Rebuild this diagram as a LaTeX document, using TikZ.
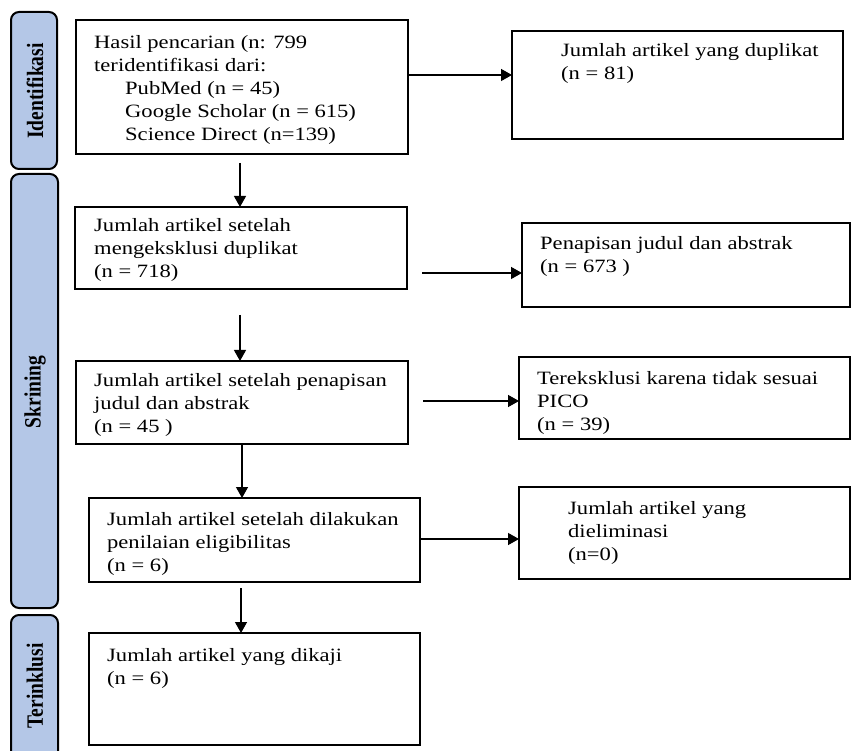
\documentclass[tikz,border=0pt]{standalone}
\usepackage{graphicx}
\usepackage{fontspec}
\setmainfont{Liberation Serif}[FakeStretch=1.2]
\newfontfamily\sidefont{Liberation Serif}
\usetikzlibrary{arrows.meta}
\definecolor{sideblue}{RGB}{180,199,231}
\tikzset{
 box/.style={draw=black, line width=2.5pt, fill=white, anchor=north west, inner sep=0pt, outer sep=0pt},
 side/.style={draw=black, line width=2pt, fill=sideblue, rounded corners=8pt, anchor=north west, inner sep=0pt, outer sep=0pt},
 sidelabel/.style={rotate=90, font=\sidefont\bfseries\fontsize{19.5}{22}\selectfont, inner sep=0pt},
 txt/.style={anchor=base west, align=left, inner sep=0pt, font=\fontsize{18.8}{23}\selectfont},
 arr/.style={line width=1.3pt, -{Triangle[length=11pt,width=12pt]}},
}
\begin{document}
\begin{tikzpicture}[x=1pt,y=-1pt]
\useasboundingbox (0,0) rectangle (852,751);
\fill[white] (0,0) rectangle (852,751);
% side bars
\node[side, minimum width=46pt, minimum height=157pt] (s1) at (11,12) {};
\node[side, minimum width=47pt, minimum height=434pt] (s2) at (11,174) {};
\node[side, minimum width=47pt, minimum height=170pt] (s3) at (11,615) {};
\node[sidelabel] (l1) at (35,91) {\scalebox{1}[1.2]{Identifikasi}};
\node[sidelabel] (l2) at (35,392) {\scalebox{1}[1.2]{Skrining}};
\node[sidelabel] (l3) at (35,686) {\scalebox{1}[1.2]{Terinklusi}};
% left boxes
\node[box, minimum width=332pt, minimum height=134pt] (b1) at (76,20) {};
\node[box, minimum width=332pt, minimum height=82pt] (b2) at (75,207) {};
\node[box, minimum width=332pt, minimum height=83pt] (b3) at (76,361) {};
\node[box, minimum width=331pt, minimum height=84pt] (b4) at (89,498) {};
\node[box, minimum width=331pt, minimum height=112pt] (b5) at (89,633) {};
% right boxes
\node[box, minimum width=331pt, minimum height=108pt] (r1) at (512,31) {};
\node[box, minimum width=328pt, minimum height=84pt] (r2) at (522,223) {};
\node[box, minimum width=331pt, minimum height=82pt] (r3) at (519,357) {};
\node[box, minimum width=331pt, minimum height=92pt] (r4) at (519,487) {};
% texts (anchored at the baseline of the last line)
\node[txt] (t1) at (94,141) {Hasil pencarian (n: 799\\teridentifikasi dari:\\\hspace*{31pt}PubMed (n = 45)\\\hspace*{31pt}Google Scholar (n = 615)\\\hspace*{31pt}Science Direct (n=139)};
\node[txt] (t2) at (94,278) {Jumlah artikel setelah\\mengeksklusi duplikat\\(n = 718)};
\node[txt] (t3) at (94,432) {Jumlah artikel setelah penapisan\\judul dan abstrak\\(n = 45 )};
\node[txt] (t4) at (107,571) {Jumlah artikel setelah dilakukan\\penilaian eligibilitas\\(n = 6)};
\node[txt] (t5) at (107,684) {Jumlah artikel yang dikaji\\(n = 6)};
\node[txt] (u1) at (561,80) {Jumlah artikel yang duplikat\\(n = 81)};
\node[txt] (u2) at (540,273) {Penapisan judul dan abstrak\\(n = 673 )};
\node[txt] (u3) at (537,431) {Tereksklusi karena tidak sesuai\\PICO\\(n = 39)};
\node[txt] (u4) at (568,560) {Jumlah artikel yang\\dieliminasi\\(n=0)};
% connector start points
\coordinate (v1) at (240,163);
\coordinate (v2) at (240,315);
\coordinate (v3) at (242,444);
\coordinate (v4) at (241,588);
\coordinate (h1) at (408,75);
\coordinate (h2) at (422,273);
\coordinate (h3) at (423,401);
\coordinate (h4) at (420,539);
% vertical arrows
\draw[arr] (v1) -- (v1 |- b2.north);
\draw[arr] (v2) -- (v2 |- b3.north);
\draw[arr] (v3) -- (v3 |- b4.north);
\draw[arr] (v4) -- (v4 |- b5.north);
% horizontal arrows
\draw[arr] (h1) -- (h1 -| r1.west);
\draw[arr] (h2) -- (h2 -| r2.west);
\draw[arr] (h3) -- (h3 -| r3.west);
\draw[arr] (h4) -- (h4 -| r4.west);
\end{tikzpicture}
\end{document}
